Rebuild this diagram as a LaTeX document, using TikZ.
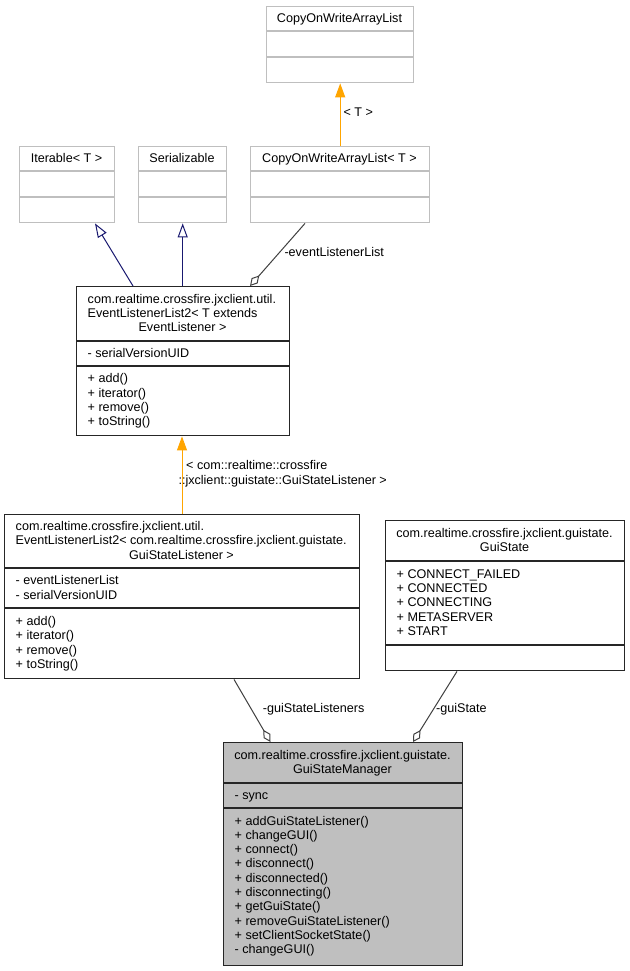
\documentclass[tikz,border=0pt]{standalone}
\usepackage{fontspec}
\setmainfont{Liberation Sans}
\usetikzlibrary{arrows.meta,calc}
\definecolor{grey75}{HTML}{BFBFBF}
\definecolor{grey25}{HTML}{404040}
\definecolor{navyblue}{HTML}{191970}
\definecolor{orangeedge}{HTML}{FFA500}
\tikzset{
  gbox/.style={draw=grey75, line width=1.4pt, rectangle, inner sep=0pt, anchor=north west, fill=white},
  kbox/.style={draw=black!85, line width=1.4pt, rectangle, inner sep=0pt, anchor=north west, fill=white},
  hbox/.style={draw=black!85, line width=1.4pt, rectangle, inner sep=0pt, anchor=north west, fill=grey75},
  gline/.style={draw=grey75, line width=1.4pt},
  kline/.style={draw=black!85, line width=1.4pt},
  txt/.style={inner sep=0pt, font=\fontsize{12.6}{14.3}\selectfont},
  inh/.style={draw=navyblue, line width=1pt, -{Triangle[open, length=14pt, width=10pt]}},
  tmpl/.style={draw=orangeedge, line width=1pt, -{Triangle[length=14pt, width=10pt]}},
  agg/.style={draw=grey25, line width=1pt, -{Diamond[open, length=14pt, width=8pt]}},
}
\newcommand\clines[4]{%
  \foreach \t [count=\i from 0] in {#4} {\node[txt, anchor=base west] (#1\i) at (#2, {#3+\i*14.3}) {\t};}}
\begin{document}
\begin{tikzpicture}[x=1pt, y=-1pt]
\useasboundingbox[fill=white] (0,0) rectangle (629,971);
% A
\node[gbox, minimum width=147pt, minimum height=76pt] (A) at (266,6) {};
\draw[gline] (266,31) -- (413,31) (266,57) -- (413,57);
\node[txt, anchor=base] (At) at (339.5,22.4) {CopyOnWriteArrayList};
% B
\node[gbox, minimum width=95pt, minimum height=76pt] (B) at (19,146) {};
\draw[gline] (19,171) -- (114,171) (19,197) -- (114,197);
\node[txt, anchor=base] (Bt) at (66.5,162.4) {Iterable< T >};
% C
\node[gbox, minimum width=88pt, minimum height=76pt] (C) at (138,146) {};
\draw[gline] (138,171) -- (226,171) (138,197) -- (226,197);
\node[txt, anchor=base] (Ct) at (182,162.4) {Serializable};
% D
\node[gbox, minimum width=179pt, minimum height=76pt] (D) at (250,146) {};
\draw[gline] (250,171) -- (429,171) (250,197) -- (429,197);
\node[txt, anchor=base] (Dt) at (339.5,162.4) {CopyOnWriteArrayList< T >};
% E
\node[kbox, minimum width=213pt, minimum height=149pt] (E) at (76,286) {};
\draw[kline] (76,341) -- (289,341) (76,366) -- (289,366);
\clines{Et}{87.5}{303}{{com.realtime.crossfire.jxclient.util.},{EventListenerList2< T extends}}
\node[txt, anchor=base] (Et2) at (182.5,331.6) {EventListener >};
\clines{Ea}{87.5}{357.4}{{- serialVersionUID}}
\clines{Em}{87.5}{382.9}{{+ add()},{+ iterator()},{+ remove()},{+ toString()}}
% F
\node[kbox, minimum width=355pt, minimum height=164pt] (F) at (4,514) {};
\draw[kline] (4,568) -- (359,568) (4,608) -- (359,608);
\clines{Ft}{15.5}{530.5}{{com.realtime.crossfire.jxclient.util.},{EventListenerList2< com.realtime.crossfire.jxclient.guistate.}}
\node[txt, anchor=base] (Ft2) at (181.5,559.1) {GuiStateListener >};
\clines{Fa}{15.5}{584.7}{{- eventListenerList},{- serialVersionUID}}
\clines{Fm}{15.5}{625.4}{{+ add()},{+ iterator()},{+ remove()},{+ toString()}}
% G
\node[kbox, minimum width=239pt, minimum height=150pt] (G) at (385,520) {};
\draw[kline] (385,561) -- (624,561) (385,645) -- (624,645);
\node[txt, anchor=base] (Gt0) at (504.5,537.2) {com.realtime.crossfire.jxclient.guistate.};
\node[txt, anchor=base] (Gt1) at (504.5,551.5) {GuiState};
\clines{Ga}{396.5}{578.25}{{+ CONNECT\_FAILED},{+ CONNECTED},{+ CONNECTING},{+ METASERVER},{+ START}}
% H
\node[hbox, minimum width=239pt, minimum height=223pt] (H) at (223,742) {};
\draw[kline] (223,783) -- (462,783) (223,808) -- (462,808);
\node[txt, anchor=base] (Ht0) at (342.5,759.2) {com.realtime.crossfire.jxclient.guistate.};
\node[txt, anchor=base] (Ht1) at (342.5,773.5) {GuiStateManager};
\clines{Ha}{234.5}{799.4}{{- sync}}
\clines{Hm}{234.5}{825}{{+ addGuiStateListener()},{+ changeGUI()},{+ connect()},{+ disconnect()},{+ disconnected()},{+ disconnecting()},{+ getGuiState()},{+ removeGuiStateListener()},{+ setClientSocketState()},{- changeGUI()}}
% edges
\draw[tmpl] (D.north) -- (A.south);
\node[txt, anchor=base west] (l1) at (343.3,116.7) {< T >};
\draw[inh] ($(E.north west)+(57,0)$) -- ($(B.south west)+(76,0)$);
\draw[inh] (E.north -| C.south) -- (C.south);
\draw[agg] ($(D.south west)+(55,0)$) -- ($(E.north west)+(174,0)$);
\node[txt, anchor=base west] (l2) at (284.3,256.7) {-eventListenerList};
\draw[tmpl] ($(F.north west)+(178,0)$) -- ($(E.south west)+(106,0)$);
\node[txt, anchor=base west] (l3) at (186,469) {< com::realtime::crossfire};
\node[txt, anchor=base west] (l4) at (178.3,484) {::jxclient::guistate::GuiStateListener >};
\draw[agg] ($(F.south west)+(230,0)$) -- ($(H.north west)+(47.5,0)$);
\node[txt, anchor=base west] (l5) at (262.7,712.5) {-guiStateListeners};
\draw[agg] ($(G.south west)+(72,0)$) -- ($(H.north west)+(190,0)$);
\node[txt, anchor=base west] (l6) at (436,712.5) {-guiState};
\end{tikzpicture}
\end{document}
